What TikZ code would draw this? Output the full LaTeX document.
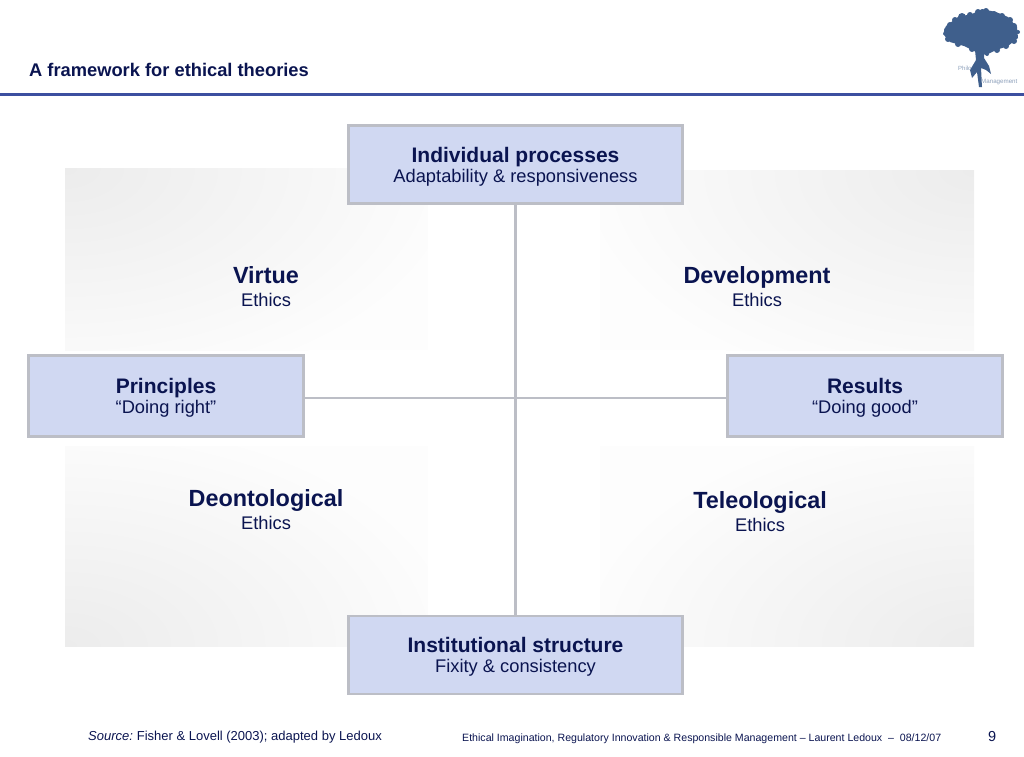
\documentclass[tikz,border=0pt]{standalone}
\usepackage{fontspec}
\setmainfont{Liberation Sans}
\usepackage{tikz}
\usetikzlibrary{positioning}
\definecolor{navy}{HTML}{0A1450}
\definecolor{rulecol}{HTML}{3C4FA0}
\definecolor{boxfill}{HTML}{D0D8F2}
\definecolor{boxedge}{HTML}{BCBEC6}
\definecolor{treecol}{HTML}{3F5F8C}
\definecolor{panelcol}{HTML}{ECECEC}
\definecolor{panelbase}{HTML}{FDFDFD}
\tikzset{framebox/.style = {draw = boxedge, fill = boxfill, line width = 2.6, inner sep = 0, align = center, text = navy, font = \fontsize{18.3}{20}\selectfont}}
\tikzset{wide/.style = {framebox, minimum width = 334, minimum height = 78}}
\tikzset{narrow/.style = {framebox, minimum width = 275, minimum height = 81}}
\tikzset{link/.style = {draw = boxedge, line width = 2.6}}
\tikzset{quad/.style = {align = center, text = navy, inner sep = 0, font = \fontsize{18.3}{23}\selectfont}}
\tikzset{foot/.style = {inner sep = 0, anchor = base west, text = navy}}
\newcommand{\boxhead}[1]{{\rule{0pt}{19.2pt}\fontsize{21}{20}\selectfont\bfseries #1}}
\newcommand{\quadhead}[1]{{\fontsize{23.4}{23}\selectfont\bfseries #1}}
\newcommand{\panel}[5]{%
  \fill [panelbase] (#1, #2) rectangle (#3, #4);
  \begin{scope}
    \clip (#1, #2) rectangle (#3, #4);
    \shade [inner color = panelcol, outer color = panelbase] #5 ellipse (400 and 230);
  \end{scope}}
\begin{document}
\begin{tikzpicture}[x=1pt, y=-1pt]
  \useasboundingbox (0, 0) rectangle (1024, 756);

  % shaded panels
  \panel{65}{168}{428}{350}{(65, 168)}
  \panel{600}{170}{974}{350}{(974, 170)}
  \panel{65}{446}{428}{646}{(65, 646)}
  \panel{600}{446}{974}{646}{(974, 646)}

  % header
  \node (title) at (29, 76) [anchor = base west, inner sep = 0, text = navy] {\fontsize{18.3}{20}\selectfont\bfseries A framework for ethical theories};
  \fill [rulecol] (0, 93) rectangle (1024, 96);

  % logo
  \fill [treecol] (946, 26) -- (958, 17) -- (972, 14) -- (982, 9) -- (996, 12) -- (1008, 17) -- (1017, 27) -- (1018, 38) -- (1008, 46) -- (996, 50) -- (986, 55) -- (976, 52) -- (964, 46) -- (950, 42) -- (943, 34) -- cycle;
  \foreach \cx/\cy/\cr in {947/30/3, 950/25/3, 955/20/3, 962/17/4, 970/15/3, 978/12/3, 986/11/3, 994/14/3, 1002/16/3, 1010/20/3, 1014/26/3, 1018/32/2, 1014/41/3, 1006/46/3, 997/50/3, 987/54/2, 972/49/3, 958/44/3, 948/39/3}
    \fill [treecol] (\cx, \cy) circle (\cr);
  \fill [treecol] (975, 50) -- (984, 50) -- (984, 58) -- (989, 66) -- (991, 74) -- (986, 70) -- (981, 68) -- (982, 87) -- (979, 87) -- (977, 72) -- (972, 78) -- (970, 70) -- (976, 60) -- cycle;
  \node (philo) at (958, 70) [anchor = base west, inner sep = 0, text = treecol!60] {\fontsize{6}{7}\selectfont Philo};
  \node (mgmt) at (981, 83) [anchor = base west, inner sep = 0, text = treecol!60] {\fontsize{6.2}{7}\selectfont Management};

  % boxes
  \node (individual) at (515.5, 164.5) [wide] {\boxhead{Individual processes}\\ Adaptability \& responsiveness};
  \node (institutional) at (515.5, 655) [wide] {\boxhead{Institutional structure}\\ Fixity \& consistency};
  \node (principles) at (166, 396) [narrow] {\boxhead{Principles}\\ “Doing right”};
  \node (results) at (865, 396) [narrow] {\boxhead{Results}\\ “Doing good”};

  \coordinate (hub) at (516, 398);
  \path [link] (individual) -- (institutional);
  \path [link] (principles.east |- hub) -- (results.west |- hub);

  % quadrant labels
  \node (virtue) at (266, 287) [quad] {\quadhead{Virtue}\\ Ethics};
  \node (development) at (757, 287) [quad] {\quadhead{Development}\\ Ethics};
  \node (deontological) at (266, 510) [quad] {\quadhead{Deontological}\\ Ethics};
  \node (teleological) at (760, 512) [quad] {\quadhead{Teleological}\\ Ethics};

  % footer
  \node (source) at (88, 740) [foot] {\fontsize{13}{15}\selectfont\textit{Source:}\hspace{-1pt} Fisher \& Lovell (2003); adapted by Ledoux};
  \node (credit) at (462, 741) [foot] {\fontsize{10.6}{13}\selectfont Ethical Imagination, Regulatory Innovation \& Responsible Management – Laurent Ledoux~~–~~08/12/07};
  \node (page) at (988, 741) [foot] {\fontsize{14.5}{16}\selectfont 9};
\end{tikzpicture}
\end{document}
